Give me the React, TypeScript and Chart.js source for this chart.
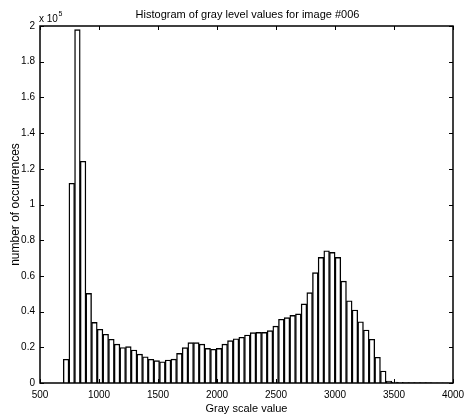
import React, { useEffect, useRef } from "react";
import { Chart, registerables } from "chart.js";

Chart.register(...registerables);

// Bin centres of the histogram (gray scale value)
const binCenters = [
  721, 769, 817, 865, 913, 961, 1009, 1057, 1105, 1153,
  1201, 1249, 1297, 1345, 1393, 1441, 1489, 1537, 1585, 1633,
  1681, 1729, 1777, 1825, 1873, 1921, 1969, 2017, 2065, 2113,
  2161, 2209, 2257, 2305, 2353, 2401, 2449, 2497, 2545, 2593,
  2641, 2689, 2737, 2785, 2833, 2881, 2929, 2977, 3025, 3073,
  3121, 3169, 3217, 3265, 3313, 3361, 3409, 3457, 3505, 3553,
  3601, 3649, 3697, 3745, 3793, 3841, 3889, 3937,
];

// Number of occurrences per bin
const occurrences = [
  13300, 111900, 198000, 124200, 50200, 34000, 30100, 27300, 24500, 21800,
  19900, 20400, 18500, 16200, 14700, 13300, 12500, 11900, 12900, 13400,
  16600, 19800, 22600, 22600, 21800, 19400, 18900, 19400, 21800, 23700,
  24800, 25600, 26900, 28200, 28400, 28400, 29300, 31900, 35700, 36600,
  37900, 38700, 44300, 50600, 61800, 70400, 74100, 73200, 70400, 57100,
  46100, 40900, 34300, 29700, 24500, 14400, 6700, 1100, 500, 400,
  300, 300, 200, 200, 200, 100, 100, 100,
];

const xTicks = [500, 1000, 1500, 2000, 2500, 3000, 3500, 4000];
const yTicks = [0, 20000, 40000, 60000, 80000, 100000, 120000, 140000, 160000, 180000, 200000];

const chartTitle = "Histogram of gray level values for image #006";
const xLabel = "Gray scale value";
const yLabel = "number of occurrences";
const yExponentBase = "x 10";
const yExponent = "5";

const FONT = "'Liberation Sans', Arial, Helvetica, sans-serif";

export default function App() {
  const ref = useRef<HTMLCanvasElement>(null);

  useEffect(() => {
    document.body.style.margin = "0";
    const canvas = ref.current;
    if (!canvas) return;

    const framePlugin = {
      id: "matlabFrame",
      afterDraw(chart: any) {
        const { ctx, chartArea: a, scales } = chart;
        ctx.save();
        ctx.strokeStyle = "#000";
        ctx.lineWidth = 1.5;
        ctx.strokeRect(a.left, a.top, a.right - a.left, a.bottom - a.top);
        ctx.lineWidth = 1;
        const tl = 4;
        ctx.beginPath();
        xTicks.forEach((v) => {
          const x = Math.round(scales.x.getPixelForValue(v)) + 0.5;
          ctx.moveTo(x, a.bottom);
          ctx.lineTo(x, a.bottom - tl);
          ctx.moveTo(x, a.top);
          ctx.lineTo(x, a.top + tl);
        });
        yTicks.forEach((v) => {
          const y = Math.round(scales.y.getPixelForValue(v)) + 0.5;
          ctx.moveTo(a.left, y);
          ctx.lineTo(a.left + tl, y);
          ctx.moveTo(a.right, y);
          ctx.lineTo(a.right - tl, y);
        });
        ctx.stroke();

        ctx.fillStyle = "#000";
        ctx.font = `11px ${FONT}`;
        ctx.textAlign = "center";
        ctx.textBaseline = "alphabetic";
        ctx.fillText(chartTitle, (a.left + a.right) / 2 + 1, 18);

        ctx.textAlign = "left";
        ctx.font = `10px ${FONT}`;
        ctx.fillText(yExponentBase, a.left - 1, 22);
        const w = ctx.measureText(yExponentBase).width;
        ctx.font = `7px ${FONT}`;
        ctx.fillText(yExponent, a.left - 1 + w + 0.5, 16);
        ctx.restore();
      },
    };

    const chart = new Chart(canvas, {
      type: "bar",
      data: {
        datasets: [
          {
            data: binCenters.map((x, i) => ({ x, y: occurrences[i] })),
            backgroundColor: "#ffffff",
            borderColor: "#000000",
            borderWidth: 1.4,
            barPercentage: 1,
            categoryPercentage: 1,
          },
        ],
      },
      options: {
        animation: false,
        responsive: false,
        devicePixelRatio: 1,
        layout: { padding: { top: 26, right: 12, left: 0, bottom: 0 } },
        plugins: {
          legend: { display: false },
          tooltip: { enabled: false },
          title: { display: false },
        },
        scales: {
          x: {
            type: "linear",
            min: 500,
            max: 4000,
            offset: false,
            grid: { display: false, drawTicks: false },
            border: { display: false },
            ticks: {
              stepSize: 500,
              autoSkip: false,
              maxRotation: 0,
              padding: 6,
              color: "#000",
              font: { family: FONT, size: 10 },
              callback: (v: any) => String(v),
            },
            title: {
              display: true,
              text: xLabel,
              color: "#000",
              font: { family: FONT, size: 11 },
              padding: { top: 0, bottom: 1 },
            },
            afterFit: (s: any) => {
              s.height = 34;
              s.paddingLeft = 0;
              s.paddingRight = 0;
            },
          },
          y: {
            type: "linear",
            min: 0,
            max: 200000,
            grid: { display: false, drawTicks: false },
            border: { display: false },
            ticks: {
              stepSize: 20000,
              padding: 5,
              color: "#000",
              font: { family: FONT, size: 10 },
              callback: (v: any) => String(+(Number(v) / 1e5).toFixed(1)),
            },
            title: {
              display: true,
              text: yLabel,
              color: "#000",
              font: { family: FONT, size: 12 },
              padding: { top: 8, bottom: 0 },
            },
            afterFit: (s: any) => {
              s.width = 40;
              s.paddingTop = 0;
              s.paddingBottom = 0;
            },
          },
        },
      },
      plugins: [framePlugin],
    } as any);

    return () => chart.destroy();
  }, []);

  return (
    <div style={{ position: "absolute", left: 0, top: 0, width: 465, height: 417, background: "#fff" }}>
      <canvas ref={ref} width={465} height={417} />
    </div>
  );
}
